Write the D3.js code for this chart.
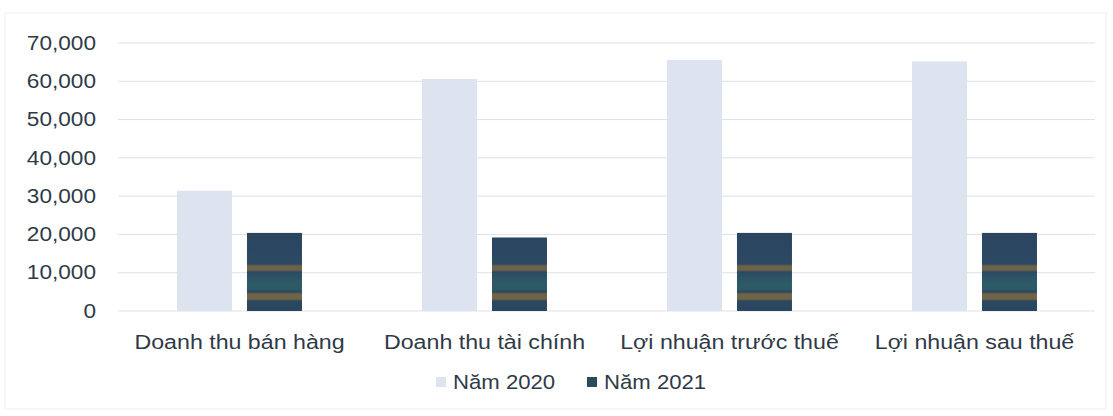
<!DOCTYPE html>
<html>
<head>
<meta charset="utf-8">
<script src="https://cdn.jsdelivr.net/npm/d3@7"></script>
<style>
  body { margin: 0; background: #fff; }
  svg text { font-family: "Liberation Sans", Arial, sans-serif; }
</style>
</head>
<body>
<div id="chart"></div>
<script>
const categories = ['Doanh thu bán hàng', 'Doanh thu tài chính', 'Lợi nhuận trước thuế', 'Lợi nhuận sau thuế']
const seriesNames = ['Năm 2020', 'Năm 2021']
const values2020 = [31400, 60600, 65600, 65200]
const values2021 = [20400, 19200, 20400, 20400]
const yTicks = [0, 10000, 20000, 30000, 40000, 50000, 60000, 70000]

const width = 1113
const height = 416
const textColor = '#2f3a48'
const stretch = 'scale(1.16,1)' // the scanned labels are wider than Arial

const svg = d3.select('#chart').append('svg').attr('width', width).attr('height', height)

const y = d3.scaleLinear().domain([0, 70000]).range([311, 43])

// dark bars carry the banding of the scan
const defs = svg.append('defs')
const grad = defs.append('linearGradient').attr('id', 'dark')
	.attr('gradientUnits', 'userSpaceOnUse')
	.attr('x1', 0).attr('x2', 0).attr('y1', 230).attr('y2', 311)
const stops = [
	[230, '#2b4560'], [264, '#2c4862'], [266, '#6d6248'], [270, '#6d6248'], [272, '#2c4a62'],
	[282, '#2d5a66'], [289, '#2d5a66'], [292, '#2c4862'], [294, '#6f6446'], [299, '#6f6446'],
	[301, '#2b4860'], [311, '#2a4560']
]
stops.forEach(([py, c]) => {
	grad.append('stop').attr('offset', (py - 230) / 81).attr('stop-color', c)
})
const colors = { 'Năm 2020': '#dde4ef', 'Năm 2021': 'url(#dark)' }
const legendColors = { 'Năm 2020': '#dde4ef', 'Năm 2021': '#2b4a5a' }

// chart frame
svg.append('rect')
	.attr('x', 5).attr('y', 13).attr('width', width - 12).attr('height', height - 20)
	.attr('fill', 'none').attr('stroke', '#eef0f4').attr('stroke-width', 1)

const x0 = d3.scaleBand().domain(categories).range([117, 1097]).paddingInner(0.49).paddingOuter(0.245)
const x1 = d3.scaleBand().domain(seriesNames).range([0, x0.bandwidth()]).paddingInner(0.214)

// gridlines
svg.append('g').selectAll('line')
	.data(yTicks)
	.enter()
	.append('line')
	.attr('x1', 118).attr('x2', 1095)
	.attr('y1', (d) => y(d)).attr('y2', (d) => y(d))
	.attr('stroke', '#dde1e8').attr('stroke-width', 1)

// y axis labels
const yAxis = d3.axisLeft(y).tickValues(yTicks).tickFormat(d3.format(',')).tickSize(0).tickPadding(0)
svg.append('g')
	.attr('transform', 'translate(96,0)')
	.call(yAxis)
	.call((g) => g.select('.domain').remove())
	.selectAll('text')
	.attr('font-size', '19.5px')
	.attr('fill', textColor)
	.attr('font-family', '"Liberation Sans", Arial, sans-serif')
	.attr('transform', stretch)

// bars
const rows = categories.map((c, i) => ({ category: c, 'Năm 2020': values2020[i], 'Năm 2021': values2021[i] }))
const groups = svg.append('g').selectAll('g')
	.data(rows)
	.enter()
	.append('g')
	.attr('transform', (d) => `translate(${x0(d.category)},0)`)

groups.selectAll('rect')
	.data((d) => seriesNames.map((s) => ({ key: s, value: d[s] })))
	.enter()
	.append('rect')
	.attr('x', (d) => x1(d.key))
	.attr('y', (d) => y(d.value))
	.attr('width', x1.bandwidth())
	.attr('height', (d) => y(0) - y(d.value))
	.attr('fill', (d) => colors[d.key])

// category axis
const xAxis = d3.axisBottom(x0).tickSize(0).tickPadding(0)
svg.append('g')
	.attr('transform', 'translate(0,335)')
	.call(xAxis)
	.call((g) => g.select('.domain').remove())
	.selectAll('text')
	.attr('font-size', '20px')
	.attr('fill', textColor)
	.attr('font-family', '"Liberation Sans", Arial, sans-serif')
	.attr('transform', stretch)

// legend
const legend = svg.append('g').attr('transform', 'translate(436,382)')
const legendX = [0, 151]
seriesNames.forEach((s, i) => {
	const item = legend.append('g').attr('transform', `translate(${legendX[i]},0)`)
	item.append('rect').attr('x', 0).attr('y', -5).attr('width', 10).attr('height', 10).attr('fill', legendColors[s])
	item.append('text').attr('x', 0).attr('y', 0).attr('dy', '0.35em')
		.attr('transform', 'translate(17,0) scale(1.08,1)')
		.attr('font-size', '20.5px').attr('fill', textColor).text(s)
})
</script>
</body>
</html>
